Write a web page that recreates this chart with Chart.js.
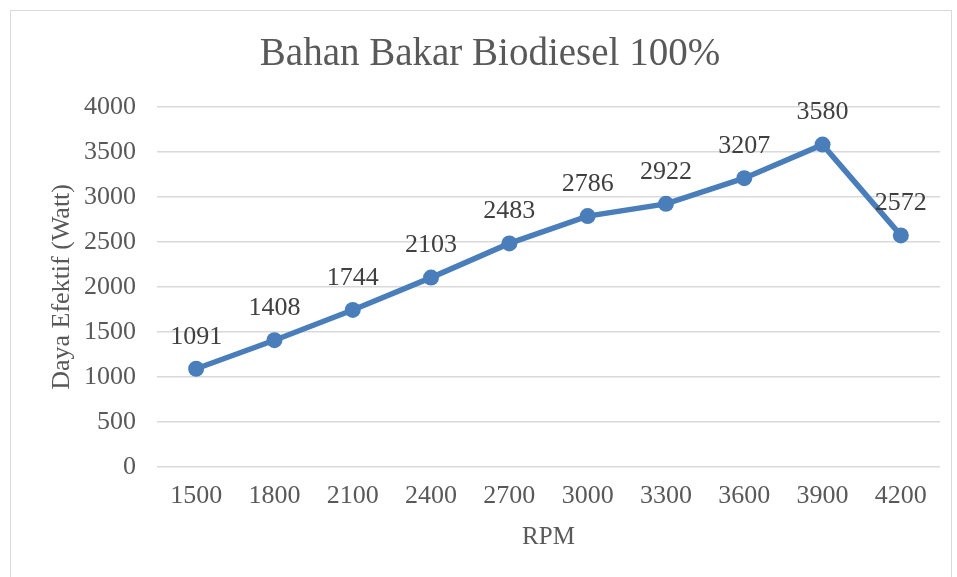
<html><head><meta charset="UTF-8">
<title>Bahan Bakar Biodiesel 100%</title>
<style>
* { margin: 0; padding: 0; box-sizing: border-box; }
body { background: #ffffff; width: 957px; height: 577px; overflow: hidden; position: relative; }
.frame {
  position: absolute;
  left: 10px; top: 10px;
  width: 942px; height: 620px;
  border: 1.5px solid #d9d9d9;
}
.wrap { position: absolute; left: 0; top: 0; width: 957px; height: 577px; }
</style>
<script src="https://cdn.jsdelivr.net/npm/chart.js"></script>
</head>
<body>
<div class="frame"></div>
<div class="wrap"><canvas id="rpmChart"></canvas></div>

<script>
const rpm = ['1500', '1800', '2100', '2400', '2700', '3000', '3300', '3600', '3900', '4200'];
const dayaEfektif = [1091, 1408, 1744, 2103, 2483, 2786, 2922, 3207, 3580, 2572];
const yTicks = [0, 500, 1000, 1500, 2000, 2500, 3000, 3500, 4000];

const serif = "'Liberation Serif', 'DejaVu Serif', serif";

// values above each point, like Excel data labels
const pointLabels = {
  id: 'pointLabels',
  afterDatasetsDraw(chart) {
    const ctx = chart.ctx;
    const meta = chart.getDatasetMeta(0);
    ctx.save();
    ctx.font = '26px ' + serif;
    ctx.fillStyle = '#404040';
    ctx.textAlign = 'center';
    ctx.textBaseline = 'middle';
    meta.data.forEach((pt, i) => {
      ctx.fillText(String(dayaEfektif[i]), pt.x, pt.y - 32);
    });
    ctx.restore();
  }
};

new Chart(document.getElementById('rpmChart'), {
  type: 'line',
  data: {
    labels: rpm,
    datasets: [{
      label: 'Daya Efektif',
      data: dayaEfektif,
      borderColor: '#4a7ebb',
      backgroundColor: '#4a7ebb',
      borderWidth: 5.5,
      pointRadius: 8,
      pointBorderWidth: 0,
      tension: 0
    }]
  },
  options: {
    responsive: true,
    maintainAspectRatio: false,
    animation: false,
    layout: { padding: { left: 40, right: 17, top: 0, bottom: 0 } },
    plugins: {
      legend: { display: false },
      tooltip: { enabled: false },
      title: {
        display: true,
        text: 'Bahan Bakar Biodiesel 100%',
        color: '#595959',
        font: { family: serif, size: 39, weight: 'normal' },
        padding: { top: 31, bottom: 29 }
      }
    },
    scales: {
      x: {
        offset: true,
        grid: { display: false, drawTicks: false },
        border: { display: false },
        ticks: { color: '#595959', font: { family: serif, size: 26 }, padding: 14, maxRotation: 0 },
        title: {
          display: true, text: 'RPM', color: '#595959',
          font: { family: serif, size: 25 },
          padding: { top: 25, bottom: 25 }
        },
        afterFit(scale) { scale.height = 110; }
      },
      y: {
        min: 0, max: 4000,
        afterBuildTicks(scale) { scale.ticks = yTicks.map(v => ({ value: v })); },
        grid: { color: '#d9d9d9', lineWidth: 1.5, drawTicks: false },
        border: { display: false },
        ticks: {
          color: '#595959', font: { family: serif, size: 26 }, padding: 21,
          callback: (v) => String(v)
        },
        title: {
          display: true, text: 'Daya Efektif (Watt)', color: '#595959',
          font: { family: serif, size: 26 },
          padding: { top: 6.4, bottom: 0 }
        },
        afterFit(scale) { scale.width = 117; }
      }
    }
  },
  plugins: [pointLabels]
});
</script>
</body></html>
